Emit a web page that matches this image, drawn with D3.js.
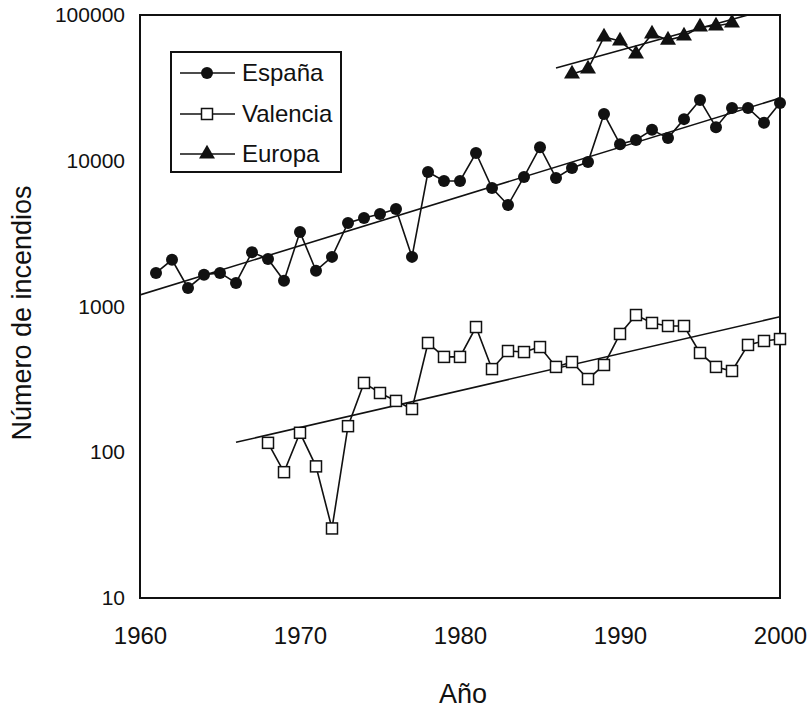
<!DOCTYPE html>
<html>
<head>
<meta charset="utf-8">
<script src="https://cdn.jsdelivr.net/npm/d3@7"></script>
<style>
  html, body { margin: 0; padding: 0; background: #fff; }
  svg { display: block; font-family: "Liberation Sans", Arial, sans-serif; }
</style>
</head>
<body>
<svg id="chart" width="810" height="712"></svg>
<script>
// ---------- data ----------
const espanaYears = d3.range(1961, 2001);
const espanaValues = [1700, 2090, 1340, 1650, 1700, 1450, 2360, 2120, 1500, 3240,
  1760, 2190, 3740, 4050, 4310, 4670, 2190, 8370, 7270, 7270,
  11300, 6500, 4970, 7740, 12400, 7620, 8920, 9800, 20900, 13000,
  13900, 16300, 14300, 19300, 26100, 17000, 23000, 23000, 18200, 24900];

const valenciaYears = d3.range(1968, 2001);
const valenciaValues = [116, 73, 136, 80, 30, 151, 299, 255, 225, 198,
  562, 451, 451, 723, 372, 495, 487, 527, 385, 416,
  318, 397, 648, 874, 771, 735, 735, 480, 385, 361,
  545, 580, 598];

const europaYears = d3.range(1987, 1998);
const europaValues = [39400, 42600, 70700, 66300, 54000, 74100, 67300, 71800, 82800, 84100, 88100];

// trend lines (endpoints)
const espanaTrendYears = [1960, 2000];
const espanaTrendValues = [1200, 26900];
const valenciaTrendYears = [1966, 2000];
const valenciaTrendValues = [117, 850];
const europaTrendYears = [1986, 1998];
const europaTrendValues = [43300, 100000];

const xTicks = [1960, 1970, 1980, 1990, 2000];
const yTicks = [10, 100, 1000, 10000, 100000];
const seriesNames = ["España", "Valencia", "Europa"];
const xTitle = "Año";
const yTitle = "Número de incendios";

// ---------- layout ----------
const pL = 140, pR = 780, pT = 15, pB = 598;
const svg = d3.select("#chart");

const x = d3.scaleLinear().domain([1960, 2000]).range([pL, pR]);
const y = d3.scaleLog().domain([10, 100000]).range([pB, pT]);

const zip = (xs, ys) => xs.map((v, i) => [v, ys[i]]);
const line = d3.line().x(d => x(d[0])).y(d => y(d[1]));

svg.append("defs").append("clipPath").attr("id", "plotclip")
  .append("rect").attr("x", pL).attr("y", pT).attr("width", pR - pL).attr("height", pB - pT);

// axes (no tick marks, frame drawn separately)
const yAxis = svg.append("g").attr("transform", `translate(${pL},0)`)
  .call(d3.axisLeft(y).tickValues(yTicks).tickSize(0).tickPadding(15).tickFormat(d3.format("d")));
yAxis.select(".domain").remove();
yAxis.selectAll("text").attr("font-size", 21).attr("fill", "#111").attr("font-family", "Liberation Sans, Arial, sans-serif");

const xAxis = svg.append("g").attr("transform", `translate(0,${pB})`)
  .call(d3.axisBottom(x).tickValues(xTicks).tickSize(0).tickPadding(29).tickFormat(d3.format("d")));
xAxis.select(".domain").remove();
xAxis.selectAll("text").attr("font-size", 24).attr("fill", "#111").attr("font-family", "Liberation Sans, Arial, sans-serif");

// axis titles
svg.append("text").attr("x", 463).attr("y", 703).attr("text-anchor", "middle")
  .attr("font-size", 27).attr("fill", "#111").text(xTitle);
svg.append("text").attr("transform", "translate(31,313) rotate(-90)").attr("text-anchor", "middle")
  .attr("font-size", 27).attr("fill", "#111").text(yTitle);

// frame
svg.append("rect").attr("x", pL).attr("y", pT).attr("width", pR - pL).attr("height", pB - pT)
  .attr("fill", "none").attr("stroke", "#111").attr("stroke-width", 2);

const plot = svg.append("g").attr("clip-path", "url(#plotclip)");

// trend lines
[[espanaTrendYears, espanaTrendValues], [valenciaTrendYears, valenciaTrendValues], [europaTrendYears, europaTrendValues]]
  .forEach(([xs, ys]) => {
    plot.append("path").datum(zip(xs, ys)).attr("d", line)
      .attr("fill", "none").attr("stroke", "#111").attr("stroke-width", 1.6);
  });

// data lines
const espana = zip(espanaYears, espanaValues);
const valencia = zip(valenciaYears, valenciaValues);
const europa = zip(europaYears, europaValues);
[espana, valencia, europa].forEach(s => {
  plot.append("path").datum(s).attr("d", line)
    .attr("fill", "none").attr("stroke", "#111").attr("stroke-width", 1.6);
});

const triSym = d3.symbol().type(d3.symbolTriangle).size(110);

// markers (not clipped so edge markers show fully)
const mk = svg.append("g");
mk.selectAll("circle.es").data(espana).join("circle").attr("class", "es")
  .attr("cx", d => x(d[0])).attr("cy", d => y(d[1])).attr("r", 6).attr("fill", "#111");
mk.selectAll("rect.va").data(valencia).join("rect").attr("class", "va")
  .attr("x", d => x(d[0]) - 5.5).attr("y", d => y(d[1]) - 5.5).attr("width", 11).attr("height", 11)
  .attr("fill", "#fff").attr("stroke", "#111").attr("stroke-width", 1.5);
mk.selectAll("path.eu").data(europa).join("path").attr("class", "eu")
  .attr("transform", d => `translate(${x(d[0])},${y(d[1])})`).attr("d", triSym).attr("fill", "#111");

// legend
const lg = svg.append("g");
lg.append("rect").attr("x", 171).attr("y", 52).attr("width", 170).attr("height", 120)
  .attr("fill", "#fff").attr("stroke", "#111").attr("stroke-width", 2);
const rowsY = [73, 114, 154];
seriesNames.forEach((name, i) => {
  const yy = rowsY[i];
  lg.append("line").attr("x1", 180).attr("x2", 235).attr("y1", yy).attr("y2", yy)
    .attr("stroke", "#111").attr("stroke-width", 1.6);
  if (i === 0) lg.append("circle").attr("cx", 207).attr("cy", yy).attr("r", 6).attr("fill", "#111");
  if (i === 1) lg.append("rect").attr("x", 201.5).attr("y", yy - 5.5).attr("width", 11).attr("height", 11)
    .attr("fill", "#fff").attr("stroke", "#111").attr("stroke-width", 1.5);
  if (i === 2) lg.append("path").attr("transform", `translate(207,${yy})`).attr("d", triSym).attr("fill", "#111");
  lg.append("text").attr("x", 242).attr("y", yy).attr("dy", "0.35em")
    .attr("font-size", 24).attr("fill", "#111").text(name);
});
</script>
</body>
</html>
